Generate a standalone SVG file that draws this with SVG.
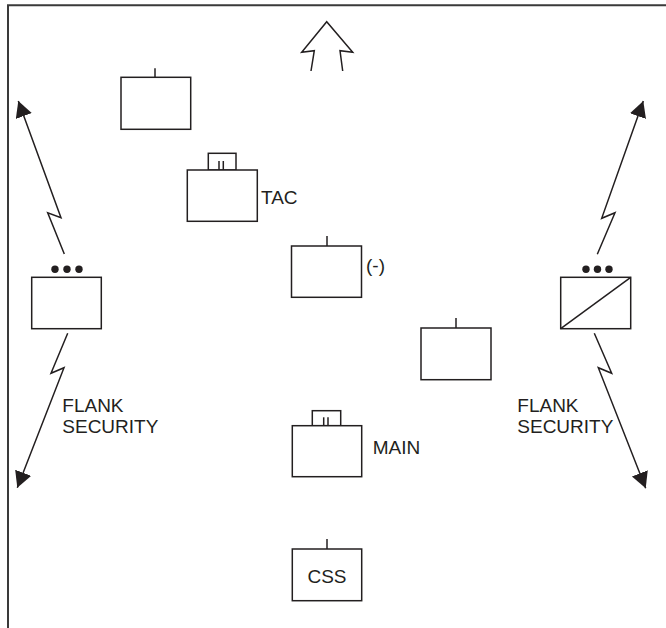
<svg xmlns="http://www.w3.org/2000/svg" width="666" height="628" viewBox="0 0 666 628">
  <style>
    .frame { fill: none; stroke: #3a3a3a; stroke-width: 2; }
    .box { fill: #ffffff; stroke: #231f20; stroke-width: 1.5; }
    .tick { fill: none; stroke: #231f20; stroke-width: 1.5; }
    .link { fill: none; stroke: #231f20; stroke-width: 1.5; stroke-linejoin: miter; }
    .dot { fill: #231f20; }
    .label { font-family: "Liberation Sans", Arial, sans-serif; font-size: 19px; fill: #231f20; }
  </style>
  <defs>
    <marker id="head" markerUnits="userSpaceOnUse" markerWidth="18" markerHeight="18" refX="16" refY="8.5" orient="auto">
      <path d="M0,0 L16,8.5 L0,17 Z" fill="#231f20"/>
    </marker>
  </defs>

  <rect width="666" height="628" fill="#ffffff"/>

  <!-- frame -->
  <path class="frame" d="M8,628 V5.3 H666"/>

  <!-- direction of movement -->
  <g id="direction">
    <polyline class="link" points="311,71 314.3,50.7 301.7,52.3 326.7,21.7 352.7,52.3 340,50.7 342.7,71"/>
  </g>

  <!-- units -->
  <g id="lead">
    <line class="tick" x1="155" y1="68.3" x2="155" y2="77.3"/>
    <rect class="box" x="121" y="77.3" width="69.7" height="52"/>
  </g>

  <g id="tac">
    <rect class="box" x="208.3" y="153.3" width="27.7" height="16.7"/>
    <line class="tick" x1="219" y1="161" x2="219" y2="170"/>
    <line class="tick" x1="223.3" y1="161" x2="223.3" y2="170"/>
    <rect class="box" x="187.3" y="170" width="70" height="51.3"/>
    <text class="label" x="261" y="204">TAC</text>
  </g>

  <g id="minus">
    <line class="tick" x1="327" y1="236" x2="327" y2="246"/>
    <rect class="box" x="291.5" y="246" width="70" height="51.3"/>
    <text class="label" x="366" y="272">(-)</text>
  </g>

  <g id="trail">
    <line class="tick" x1="456" y1="318" x2="456" y2="328"/>
    <rect class="box" x="421" y="328" width="70" height="51.7"/>
  </g>

  <g id="main">
    <rect class="box" x="312.3" y="410.7" width="28.4" height="15"/>
    <line class="tick" x1="323.7" y1="417.3" x2="323.7" y2="425.7"/>
    <line class="tick" x1="328" y1="417.3" x2="328" y2="425.7"/>
    <rect class="box" x="292.3" y="425.7" width="69.4" height="51"/>
    <text class="label" x="372.7" y="454">MAIN</text>
  </g>

  <g id="css">
    <line class="tick" x1="327" y1="539" x2="327" y2="549"/>
    <rect class="box" x="292.3" y="549" width="69.4" height="51.7"/>
    <text class="label" x="327" y="583" text-anchor="middle">CSS</text>
  </g>

  <g id="flank-left">
    <circle class="dot" cx="55" cy="269.3" r="3.7"/>
    <circle class="dot" cx="67" cy="269.3" r="3.7"/>
    <circle class="dot" cx="79" cy="269.3" r="3.7"/>
    <rect class="box" x="31.7" y="277.3" width="69.6" height="51.4"/>
  </g>

  <g id="flank-right">
    <circle class="dot" cx="586" cy="269.3" r="3.7"/>
    <circle class="dot" cx="597.5" cy="269.3" r="3.7"/>
    <circle class="dot" cx="609" cy="269.3" r="3.7"/>
    <rect class="box" x="560.7" y="277.3" width="70" height="51.4"/>
    <line class="tick" x1="560.7" y1="328.7" x2="630.7" y2="277.3"/>
  </g>

  <!-- labels -->
  <g id="flank-left-label">
    <text class="label" x="62.3" y="411.5">FLANK</text>
    <text class="label" x="62.3" y="432.5">SECURITY</text>
  </g>
  <g id="flank-right-label">
    <text class="label" x="517.3" y="411.5">FLANK</text>
    <text class="label" x="517.3" y="432.5">SECURITY</text>
  </g>

  <!-- radio links to flank security -->
  <g id="connectors">
    <polyline class="link" marker-end="url(#head)" points="64.3,254 47.7,212.7 61,217.7 18.3,101"/>
    <polyline class="link" marker-end="url(#head)" points="67.7,333.3 51,373.3 64,367.7 17.3,487.7"/>
    <polyline class="link" marker-end="url(#head)" points="597.3,254.3 615,212.7 601.7,218.3 643.3,101"/>
    <polyline class="link" marker-end="url(#head)" points="594.3,333.3 611.7,373.3 598.3,367.7 645.7,488.3"/>
  </g>
</svg>
